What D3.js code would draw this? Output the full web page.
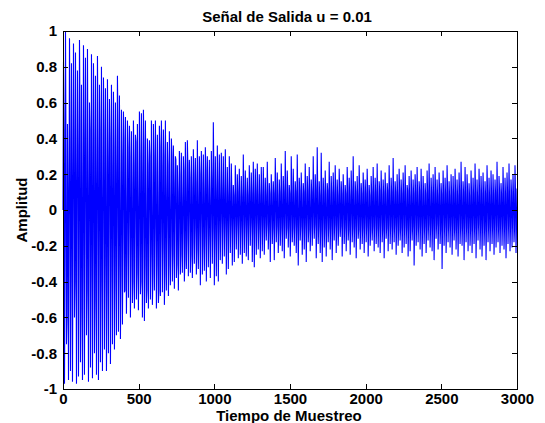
<!DOCTYPE html>
<html>
<head>
<meta charset="utf-8">
<script src="https://cdn.jsdelivr.net/npm/d3@7"></script>
<style>
  body { margin: 0; background: #ffffff; }
  svg text { font-family: "Liberation Sans Narrow", "Arial Narrow", "Liberation Sans", Arial, sans-serif; font-weight: bold; }
</style>
</head>
<body>
<svg id="chart" width="545" height="423"></svg>
<script>
// ---------- texts ----------
const titulo = "Señal de Salida u = 0.01";
const etiquetaX = "Tiempo de Muestreo";
const etiquetaY = "Amplitud";

// ---------- ticks ----------
const xTicks = [0, 500, 1000, 1500, 2000, 2500, 3000];
const xTickLabels = ["0", "500", "1000", "1500", "2000", "2500", "3000"];
const yTicks = [-1, -0.8, -0.6, -0.4, -0.2, 0, 0.2, 0.4, 0.6, 0.8, 1];
const yTickLabels = ["-1", "-0.8", "-0.6", "-0.4", "-0.2", "0", "0.2", "0.4", "0.6", "0.8", "1"];
const muestraMax = 3000;

// ---------- signal values (samples 0 .. ~660) ----------
const amplitudInicio = [
  0.00, 0.83, 0.45, -0.97, -0.20, 1.00, 0.30, -0.75, -0.60, 0.48, 0.10, -0.95, -0.10, 0.96, 0.40, -0.90, -0.35, 0.82, 0.20, -0.96,
  -0.05, 0.93, 0.45, -0.60, -0.40, 0.88, 0.05, -0.97, 0.10, 0.78, 0.35, -0.93, -0.25, 0.95, 0.50, -0.85, -0.55, 0.70, 0.15, -0.95,
  -0.30, 0.92, 0.40, -0.92, 0.05, 0.85, 0.30, -0.70, -0.45, 0.90, 0.15, -0.96, -0.15, 0.60, 0.45, -0.88, -0.35, 0.87, 0.25, -0.94,
  -0.20, 0.82, 0.40, -0.80, -0.50, 0.75, 0.10, -0.92, 0.00, 0.86, 0.35, -0.95, -0.30, 0.70, 0.45, -0.85, -0.40, 0.80, 0.05, -0.90,
  -0.10, 0.74, 0.45, -0.78, -0.30, 0.68, 0.20, -0.90, -0.45, 0.73, 0.30, -0.80, 0.00, 0.62, 0.40, -0.86, -0.35, 0.70, 0.25, -0.75,
  -0.20, 0.66, 0.35, -0.78, -0.40, 0.60, 0.20, -0.70, -0.10, 0.75, 0.45, -0.68, -0.30, 0.64, 0.10, -0.72, -0.35, 0.56, 0.30, -0.64,
  -0.15, 0.55, 0.40, -0.46, -0.45, 0.52, 0.05, -0.58, -0.25, 0.50, 0.35, -0.49, -0.05, 0.47, 0.30, -0.60, -0.30, 0.44, 0.15, -0.52,
  -0.40, 0.50, 0.25, -0.55, -0.10, 0.42, 0.38, -0.50, -0.35, 0.48, 0.05, -0.56, -0.20, 0.55, 0.30, -0.47, -0.40, 0.54, 0.20, -0.60,
  -0.15, 0.56, 0.35, -0.62, -0.30, 0.50, 0.10, -0.52, -0.45, 0.40, 0.25, -0.55, -0.05, 0.39, 0.30, -0.50, -0.25, 0.50, 0.05, -0.53,
  -0.35, 0.48, 0.30, -0.45, -0.10, 0.50, 0.20, -0.55, -0.30, 0.42, 0.10, -0.52, -0.45, 0.47, 0.35, -0.48, -0.15, 0.50, 0.25, -0.46
];

// ---------- signal values (samples ~660 .. ~1320) ----------
const amplitudMedio = [
  -0.20, 0.45, 0.30, -0.53, -0.35, 0.50, 0.10, -0.45, -0.10, 0.38, 0.25, -0.48, -0.30, 0.44, 0.05, -0.42, -0.20, 0.40, 0.30, -0.40,
  -0.25, 0.36, 0.15, -0.44, -0.05, 0.30, 0.28, -0.38, -0.30, 0.25, 0.10, -0.45, -0.15, 0.33, 0.20, -0.36, -0.25, 0.32, 0.05, -0.35,
  -0.10, 0.30, 0.22, -0.40, -0.28, 0.38, 0.10, -0.33, -0.15, 0.39, 0.25, -0.37, -0.05, 0.28, 0.18, -0.35, -0.25, 0.30, 0.12, -0.38,
  -0.18, 0.34, 0.20, -0.30, -0.10, 0.29, 0.15, -0.36, -0.22, 0.39, 0.08, -0.33, -0.12, 0.30, 0.20, -0.42, -0.06, 0.33, 0.15, -0.36,
  -0.20, 0.31, 0.10, -0.34, -0.15, 0.35, 0.22, -0.40, -0.08, 0.30, 0.12, -0.32, -0.14, 0.28, 0.05, -0.38, -0.10, 0.33, 0.18, -0.30,
  -0.10, 0.49, 0.20, -0.42, -0.15, 0.30, 0.10, -0.37, -0.08, 0.36, 0.15, -0.40, -0.12, 0.31, 0.08, -0.28, -0.05, 0.32, 0.12, -0.30,
  -0.08, 0.30, 0.09, -0.26, -0.07, 0.34, 0.10, -0.36, -0.09, 0.24, 0.08, -0.33, -0.06, 0.30, 0.09, -0.24, -0.08, 0.26, 0.10, -0.31,
  -0.07, 0.14, 0.08, -0.29, -0.09, 0.25, 0.09, -0.22, -0.08, 0.20, 0.10, -0.27, -0.06, 0.23, 0.08, -0.25, -0.09, 0.19, 0.07, -0.30,
  -0.08, 0.31, 0.10, -0.24, -0.07, 0.22, 0.09, -0.26, -0.09, 0.18, 0.08, -0.28, -0.08, 0.25, 0.10, -0.20, -0.07, 0.21, 0.09, -0.29,
  -0.09, 0.27, 0.08, -0.32, -0.08, 0.23, 0.10, -0.25, -0.07, 0.26, 0.09, -0.22, -0.10, 0.20, 0.08, -0.27, -0.08, 0.24, 0.09, -0.23
];

// ---------- signal values (samples ~1320 .. 3000) ----------
const amplitudFinal = [
  -0.09, 0.24, 0.10, -0.25, -0.10, 0.18, 0.08, -0.17, -0.08, 0.27, 0.11, -0.22, -0.11, 0.15, 0.09, -0.29, -0.09, 0.20, 0.10, -0.19,
  -0.10, 0.16, 0.09, -0.28, -0.08, 0.29, 0.11, -0.18, -0.09, 0.21, 0.08, -0.24, -0.11, 0.17, 0.10, -0.20, -0.10, 0.26, 0.09, -0.23,
  -0.08, 0.19, 0.10, -0.27, -0.09, 0.33, 0.08, -0.16, -0.10, 0.22, 0.11, -0.21, -0.09, 0.14, 0.09, -0.26, -0.11, 0.30, 0.10, -0.18,
  -0.10, 0.23, 0.09, -0.20, -0.08, 0.16, 0.10, -0.24, -0.09, 0.31, 0.08, -0.31, -0.11, 0.18, 0.11, -0.17, -0.09, 0.21, 0.09, -0.25,
  -0.10, 0.15, 0.10, -0.22, -0.08, 0.26, 0.09, -0.29, -0.09, 0.19, 0.11, -0.18, -0.11, 0.24, 0.08, -0.23, -0.10, 0.17, 0.10, -0.20,
  -0.09, 0.30, 0.09, -0.16, -0.08, 0.20, 0.11, -0.27, -0.10, 0.35, 0.10, -0.19, -0.09, 0.16, 0.08, -0.24, -0.11, 0.32, 0.09, -0.29,
  -0.08, 0.18, 0.10, -0.21, -0.10, 0.22, 0.09, -0.26, -0.09, 0.15, 0.11, -0.18, -0.10, 0.27, 0.08, -0.22, -0.09, 0.19, 0.10, -0.28,
  -0.11, 0.21, 0.09, -0.17, -0.08, 0.25, 0.10, -0.24, -0.09, 0.17, 0.08, -0.20, -0.10, 0.23, 0.11, -0.15, -0.09, 0.16, 0.09, -0.26,
  -0.08, 0.20, 0.10, -0.19, -0.10, 0.14, 0.09, -0.23, -0.09, 0.24, 0.11, -0.17, -0.11, 0.18, 0.08, -0.25, -0.08, 0.22, 0.10, -0.18,
  -0.10, 0.30, 0.09, -0.21, -0.09, 0.16, 0.10, -0.27, -0.08, 0.19, 0.08, -0.16, -0.11, 0.25, 0.11, -0.22, -0.09, 0.15, 0.09, -0.19,
  -0.10, 0.21, 0.10, -0.24, -0.08, 0.17, 0.09, -0.18, -0.09, 0.23, 0.11, -0.26, -0.10, 0.14, 0.08, -0.20, -0.11, 0.19, 0.10, -0.17,
  -0.09, 0.24, 0.09, -0.23, -0.08, 0.18, 0.10, -0.19, -0.10, 0.26, 0.08, -0.21, -0.09, 0.16, 0.11, -0.24, -0.08, 0.22, 0.09, -0.18,
  -0.11, 0.17, 0.10, -0.27, -0.09, 0.21, 0.09, -0.16, -0.10, 0.15, 0.11, -0.23, -0.08, 0.25, 0.08, -0.19, -0.09, 0.18, 0.10, -0.22,
  -0.10, 0.29, 0.09, -0.18, -0.08, 0.16, 0.10, -0.25, -0.09, 0.20, 0.08, -0.20, -0.11, 0.23, 0.11, -0.17, -0.10, 0.17, 0.09, -0.24,
  -0.08, 0.21, 0.10, -0.21, -0.09, 0.25, 0.09, -0.19, -0.10, 0.14, 0.11, -0.26, -0.09, 0.19, 0.08, -0.23, -0.11, 0.22, 0.10, -0.17,
  -0.09, 0.17, 0.09, -0.31, -0.08, 0.20, 0.10, -0.20, -0.10, 0.24, 0.08, -0.18, -0.09, 0.16, 0.11, -0.22, -0.08, 0.23, 0.09, -0.26,
  -0.10, 0.19, 0.10, -0.19, -0.09, 0.15, 0.09, -0.24, -0.11, 0.22, 0.11, -0.17, -0.08, 0.26, 0.08, -0.21, -0.10, 0.18, 0.10, -0.23,
  -0.09, 0.20, 0.09, -0.28, -0.10, 0.24, 0.10, -0.16, -0.08, 0.17, 0.08, -0.22, -0.09, 0.21, 0.11, -0.19, -0.11, 0.15, 0.09, -0.33,
  -0.08, 0.22, 0.10, -0.20, -0.09, 0.18, 0.09, -0.24, -0.10, 0.25, 0.11, -0.18, -0.09, 0.16, 0.08, -0.21, -0.08, 0.20, 0.10, -0.25,
  -0.10, 0.19, 0.09, -0.17, -0.11, 0.23, 0.10, -0.22, -0.09, 0.17, 0.08, -0.26, -0.08, 0.21, 0.11, -0.19, -0.10, 0.27, 0.09, -0.20,
  -0.09, 0.16, 0.10, -0.28, -0.08, 0.24, 0.09, -0.18, -0.10, 0.20, 0.11, -0.23, -0.09, 0.15, 0.08, -0.20, -0.11, 0.22, 0.10, -0.24,
  -0.08, 0.18, 0.09, -0.19, -0.10, 0.26, 0.10, -0.27, -0.09, 0.17, 0.08, -0.17, -0.08, 0.23, 0.11, -0.22, -0.10, 0.19, 0.09, -0.26,
  -0.09, 0.21, 0.10, -0.20, -0.11, 0.16, 0.09, -0.28, -0.08, 0.25, 0.11, -0.18, -0.10, 0.18, 0.08, -0.23, -0.09, 0.22, 0.10, -0.19,
  -0.10, 0.20, 0.09, -0.25, -0.08, 0.17, 0.10, -0.21, -0.09, 0.27, 0.08, -0.18, -0.11, 0.19, 0.11, -0.24, -0.08, 0.15, 0.09, -0.20,
  -0.09, 0.24, 0.10, -0.22, -0.10, 0.18, 0.09, -0.27, -0.08, 0.21, 0.11, -0.19, -0.09, 0.26, 0.08, -0.23, -0.10, 0.17, 0.10, -0.21,
  -0.08, 0.20, 0.09, -0.18, -0.11, 0.25, 0.10, -0.24, -0.09, 0.12
];

const amplitud = amplitudInicio.concat(amplitudMedio, amplitudFinal);
// sample index of each value (evenly spaced over 0..3000)
const muestra = amplitud.map((_, i) => i * muestraMax / (amplitud.length - 1));

// ---------- layout ----------
const W = 545, H = 423;
const mLeft = 63, mRight = 517, mTop = 31, mBottom = 389;
const fontSize = "15px";

const svg = d3.select("#chart");
svg.append("rect").attr("width", W).attr("height", H).attr("fill", "#ffffff");

const x = d3.scaleLinear().domain([0, muestraMax]).range([mLeft, mRight]);
const y = d3.scaleLinear().domain([-1, 1]).range([mBottom, mTop]);

// signal
const linea = d3.line()
  .x((d, i) => x(muestra[i]))
  .y(d => y(d));

svg.append("path")
  .datum(amplitud)
  .attr("fill", "none")
  .attr("stroke", "#0000ff")
  .attr("stroke-width", 1.1)
  .attr("stroke-linejoin", "bevel")
  .attr("d", linea);

// axes (MATLAB style: box with inward ticks on all four sides)
function styleAxis(g) {
  g.attr("font-family", null).attr("font-size", null);
  g.selectAll("path.domain").attr("stroke", "#000").attr("stroke-width", 1).attr("shape-rendering", "crispEdges");
  g.selectAll(".tick line").attr("stroke", "#000").attr("shape-rendering", "crispEdges");
  g.selectAll(".tick text").attr("fill", "#000").style("font-size", fontSize);
}

svg.append("g")
  .attr("transform", `translate(0,${mBottom})`)
  .call(d3.axisBottom(x).tickValues(xTicks).tickFormat((d, i) => xTickLabels[i])
    .tickSizeInner(-5).tickSizeOuter(0).tickPadding(4))
  .call(styleAxis);

svg.append("g")
  .attr("transform", `translate(0,${mTop})`)
  .call(d3.axisTop(x).tickValues(xTicks).tickFormat(() => "")
    .tickSizeInner(-5).tickSizeOuter(0))
  .call(styleAxis);

svg.append("g")
  .attr("transform", `translate(${mLeft},0)`)
  .call(d3.axisLeft(y).tickValues(yTicks).tickFormat((d, i) => yTickLabels[i])
    .tickSizeInner(-5).tickSizeOuter(0).tickPadding(6))
  .call(styleAxis);

svg.append("g")
  .attr("transform", `translate(${mRight},0)`)
  .call(d3.axisRight(y).tickValues(yTicks).tickFormat(() => "")
    .tickSizeInner(-5).tickSizeOuter(0))
  .call(styleAxis);

// title and labels
svg.append("text")
  .attr("x", (mLeft + mRight) / 2 - 3)
  .attr("y", 22)
  .attr("text-anchor", "middle")
  .style("font-size", fontSize)
  .attr("fill", "#000")
  .text(titulo);

svg.append("text")
  .attr("x", (mLeft + mRight) / 2 - 1)
  .attr("y", 421)
  .attr("text-anchor", "middle")
  .style("font-size", fontSize)
  .attr("fill", "#000")
  .text(etiquetaX);

svg.append("text")
  .attr("transform", `translate(27,${(mTop + mBottom) / 2}) rotate(-90)`)
  .attr("text-anchor", "middle")
  .style("font-size", fontSize)
  .attr("fill", "#000")
  .text(etiquetaY);
</script>
</body>
</html>
